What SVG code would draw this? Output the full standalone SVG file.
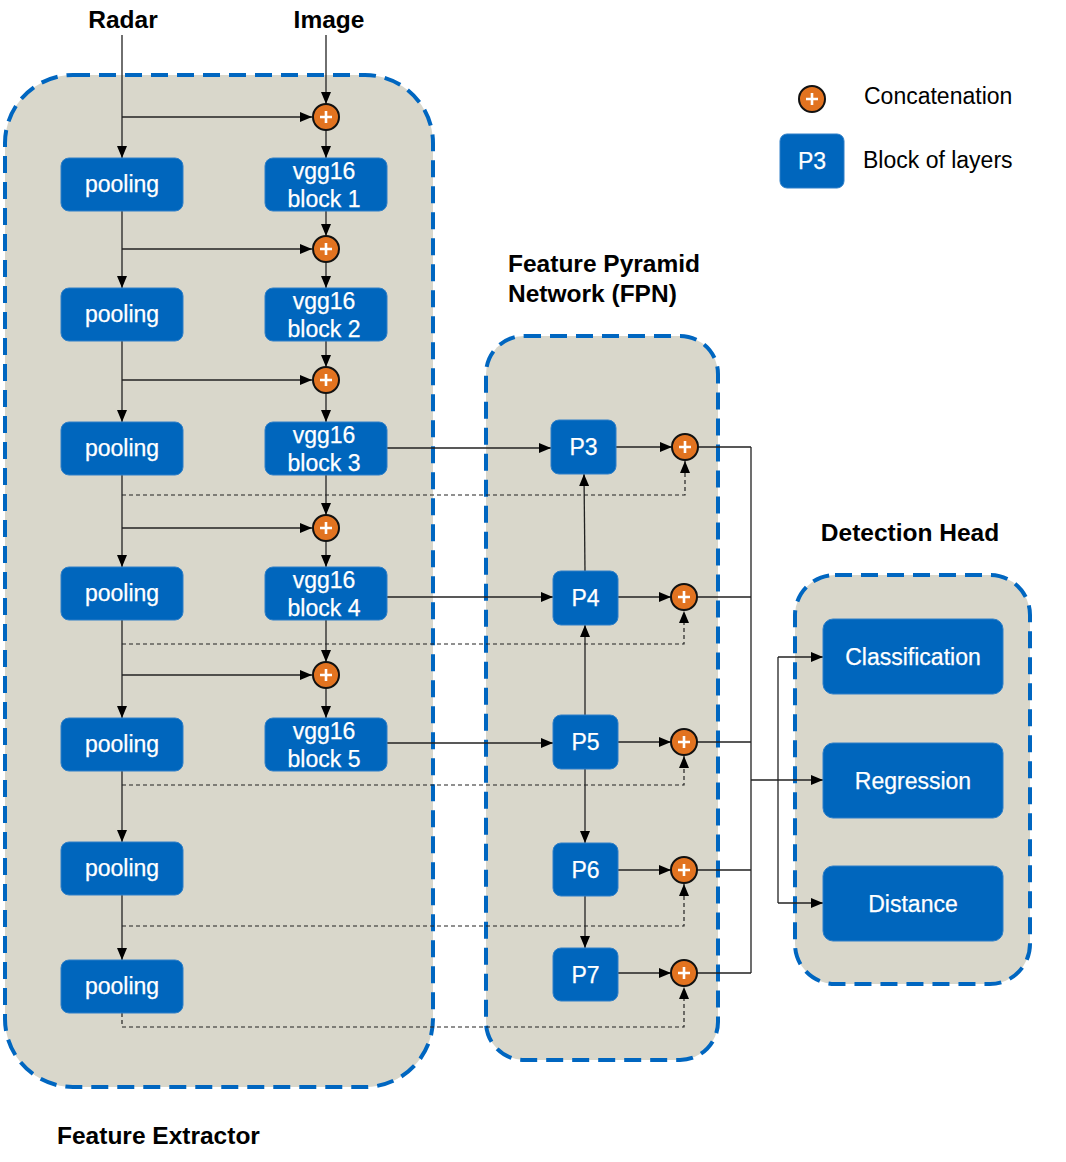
<svg xmlns="http://www.w3.org/2000/svg" width="1066" height="1162" viewBox="0 0 1066 1162">
<style>
  .cont{fill:#d9d7cb;stroke:#0066c0;stroke-width:4;stroke-dasharray:17 9}
  .box{fill:#0066bd;stroke:#2f7fc8;stroke-width:1}
  .bt{font-family:"Liberation Sans",Arial,sans-serif;font-size:23px;fill:#fff;text-anchor:middle;stroke:#fff;stroke-width:0.25}
  .title{font-family:"Liberation Sans",Arial,sans-serif;font-size:24.5px;font-weight:bold;fill:#000}
  .lg{font-family:"Liberation Sans",Arial,sans-serif;font-size:23px;fill:#000}
  .ln{fill:none;stroke:#222;stroke-width:1.3}
  .ar{fill:none;stroke:#222;stroke-width:1.3;marker-end:url(#ah)}
  .da{fill:none;stroke:#222;stroke-width:1.2;stroke-dasharray:4 3}
  .dar{fill:none;stroke:#222;stroke-width:1.2;stroke-dasharray:4 3;marker-end:url(#ah)}
  .cc{fill:#e27320;stroke:#111;stroke-width:2}
  .pl{stroke:#fff;stroke-width:2.6;fill:none}
</style>
<defs>
  <marker id="ah" viewBox="0 0 12 10" refX="12" refY="5" markerWidth="12" markerHeight="10" markerUnits="userSpaceOnUse" orient="auto">
    <path d="M0,0 L12,5 L0,10 z" fill="#000"/>
  </marker>
  <g id="plus"><circle class="cc" cx="0" cy="0" r="13"/><path class="pl" d="M-6,0 H6 M0,-6 V6"/></g>
</defs>
<rect width="1066" height="1162" fill="#fff"/>

<!-- containers -->
<g id="feature-extractor"><rect class="cont" x="5" y="75" width="428" height="1012" rx="68"/></g>
<g id="fpn"><rect class="cont" x="486" y="336" width="232" height="724" rx="38"/></g>
<g id="detection-head"><rect class="cont" x="795" y="575" width="235" height="409" rx="40"/></g>

<!-- titles -->
<text class="title" x="123" y="28" text-anchor="middle">Radar</text>
<text class="title" x="329" y="28" text-anchor="middle">Image</text>
<text class="title" x="508" y="272">Feature Pyramid</text>
<text class="title" x="508" y="302">Network (FPN)</text>
<text class="title" x="910" y="541" text-anchor="middle">Detection Head</text>
<text class="title" x="57" y="1144">Feature Extractor</text>

<!-- connectors -->
<g id="connectors">
  <path class="ar" d="M122,35 V158"/>
  <path class="ar" d="M122,117 H312"/>
  <path class="ar" d="M326,35 V104"/>
  <path class="ar" d="M326,130 V158"/>
  <path class="ar" d="M122,211 V288"/>
  <path class="ar" d="M122,249 H312"/>
  <path class="ar" d="M326,211 V236"/>
  <path class="ar" d="M326,262 V288"/>
  <path class="ar" d="M122,341 V422"/>
  <path class="ar" d="M122,380 H312"/>
  <path class="ar" d="M326,341 V367"/>
  <path class="ar" d="M326,393 V422"/>
  <path class="ar" d="M122,475 V567"/>
  <path class="ar" d="M122,528 H312"/>
  <path class="ar" d="M326,475 V515"/>
  <path class="ar" d="M326,541 V567"/>
  <path class="ar" d="M122,620 V718"/>
  <path class="ar" d="M122,675 H312"/>
  <path class="ar" d="M326,620 V662"/>
  <path class="ar" d="M326,688 V718"/>
  <path class="ar" d="M122,771 V842"/>
  <path class="ar" d="M122,895 V960"/>
  <!-- dashed skip connections -->
  <path class="dar" d="M122,495 H685 V461"/>
  <path class="dar" d="M122,644 H684 V611"/>
  <path class="dar" d="M122,785 H684 V756"/>
  <path class="dar" d="M122,926 H684 V884"/>
  <path class="dar" d="M122,1013 V1027 H684 V987"/>
  <!-- vgg to FPN -->
  <path class="ar" d="M387,448 H551"/>
  <path class="ar" d="M387,597 H553"/>
  <path class="ar" d="M387,743 H553"/>
  <!-- FPN internal -->
  <path class="ar" d="M585,571 L584,474"/>
  <path class="ar" d="M585,715 V625"/>
  <path class="ar" d="M585,769 V843"/>
  <path class="ar" d="M585,896 V948"/>
  <path class="ar" d="M616,447 H672"/>
  <path class="ar" d="M618,597 H671"/>
  <path class="ar" d="M618,742 H671"/>
  <path class="ar" d="M618,870 H671"/>
  <path class="ar" d="M618,973 H671"/>
  <!-- outputs -->
  <path class="ln" d="M698,447 H751 M697,597 H751 M697,742 H751 M697,870 H751 M697,973 H751 M751,447 V973"/>
  <path class="ar" d="M751,780 H823"/>
  <path class="ln" d="M778,657 V903"/>
  <path class="ar" d="M778,657 H823"/>
  <path class="ar" d="M778,903 H823"/>
</g>

<!-- pooling nodes -->
<g id="pool1"><rect class="box" x="61" y="158" width="122" height="53" rx="8"/><text class="bt" x="122" y="192">pooling</text></g>
<g id="pool2"><rect class="box" x="61" y="288" width="122" height="53" rx="8"/><text class="bt" x="122" y="322">pooling</text></g>
<g id="pool3"><rect class="box" x="61" y="422" width="122" height="53" rx="8"/><text class="bt" x="122" y="456">pooling</text></g>
<g id="pool4"><rect class="box" x="61" y="567" width="122" height="53" rx="8"/><text class="bt" x="122" y="601">pooling</text></g>
<g id="pool5"><rect class="box" x="61" y="718" width="122" height="53" rx="8"/><text class="bt" x="122" y="752">pooling</text></g>
<g id="pool6"><rect class="box" x="61" y="842" width="122" height="53" rx="8"/><text class="bt" x="122" y="876">pooling</text></g>
<g id="pool7"><rect class="box" x="61" y="960" width="122" height="53" rx="8"/><text class="bt" x="122" y="994">pooling</text></g>

<!-- vgg nodes -->
<g id="vgg1"><rect class="box" x="265" y="158" width="122" height="53" rx="8"/><text class="bt" x="324" y="179">vgg16</text><text class="bt" x="324" y="207">block 1</text></g>
<g id="vgg2"><rect class="box" x="265" y="288" width="122" height="53" rx="8"/><text class="bt" x="324" y="309">vgg16</text><text class="bt" x="324" y="337">block 2</text></g>
<g id="vgg3"><rect class="box" x="265" y="422" width="122" height="53" rx="8"/><text class="bt" x="324" y="443">vgg16</text><text class="bt" x="324" y="471">block 3</text></g>
<g id="vgg4"><rect class="box" x="265" y="567" width="122" height="53" rx="8"/><text class="bt" x="324" y="588">vgg16</text><text class="bt" x="324" y="616">block 4</text></g>
<g id="vgg5"><rect class="box" x="265" y="718" width="122" height="53" rx="8"/><text class="bt" x="324" y="739">vgg16</text><text class="bt" x="324" y="767">block 5</text></g>

<!-- concat nodes -->
<g id="cat1"><use href="#plus" x="326" y="117"/></g>
<g id="cat2"><use href="#plus" x="326" y="249"/></g>
<g id="cat3"><use href="#plus" x="326" y="380"/></g>
<g id="cat4"><use href="#plus" x="326" y="528"/></g>
<g id="cat5"><use href="#plus" x="326" y="675"/></g>
<g id="catP3"><use href="#plus" x="685" y="447"/></g>
<g id="catP4"><use href="#plus" x="684" y="597"/></g>
<g id="catP5"><use href="#plus" x="684" y="742"/></g>
<g id="catP6"><use href="#plus" x="684" y="870"/></g>
<g id="catP7"><use href="#plus" x="684" y="973"/></g>

<!-- FPN nodes -->
<g id="P3"><rect class="box" x="551" y="420" width="65" height="54" rx="8"/><text class="bt" x="583.5" y="455">P3</text></g>
<g id="P4"><rect class="box" x="553" y="571" width="65" height="54" rx="8"/><text class="bt" x="585.5" y="606">P4</text></g>
<g id="P5"><rect class="box" x="553" y="715" width="65" height="54" rx="8"/><text class="bt" x="585.5" y="750">P5</text></g>
<g id="P6"><rect class="box" x="553" y="843" width="65" height="53" rx="8"/><text class="bt" x="585.5" y="878">P6</text></g>
<g id="P7"><rect class="box" x="553" y="948" width="65" height="53" rx="8"/><text class="bt" x="585.5" y="983">P7</text></g>

<!-- Detection head nodes -->
<g id="classification"><rect class="box" x="823" y="619" width="180" height="75" rx="10"/><text class="bt" x="913" y="665">Classification</text></g>
<g id="regression"><rect class="box" x="823" y="743" width="180" height="75" rx="10"/><text class="bt" x="913" y="789">Regression</text></g>
<g id="distance"><rect class="box" x="823" y="866" width="180" height="75" rx="10"/><text class="bt" x="913" y="912">Distance</text></g>

<!-- legend -->
<g id="legend">
  <use href="#plus" x="812" y="99"/>
  <text class="lg" x="864" y="104">Concatenation</text>
  <rect class="box" x="780" y="134" width="64" height="54" rx="7"/>
  <text class="bt" x="812" y="169">P3</text>
  <text class="lg" x="863" y="168">Block of layers</text>
</g>
</svg>
